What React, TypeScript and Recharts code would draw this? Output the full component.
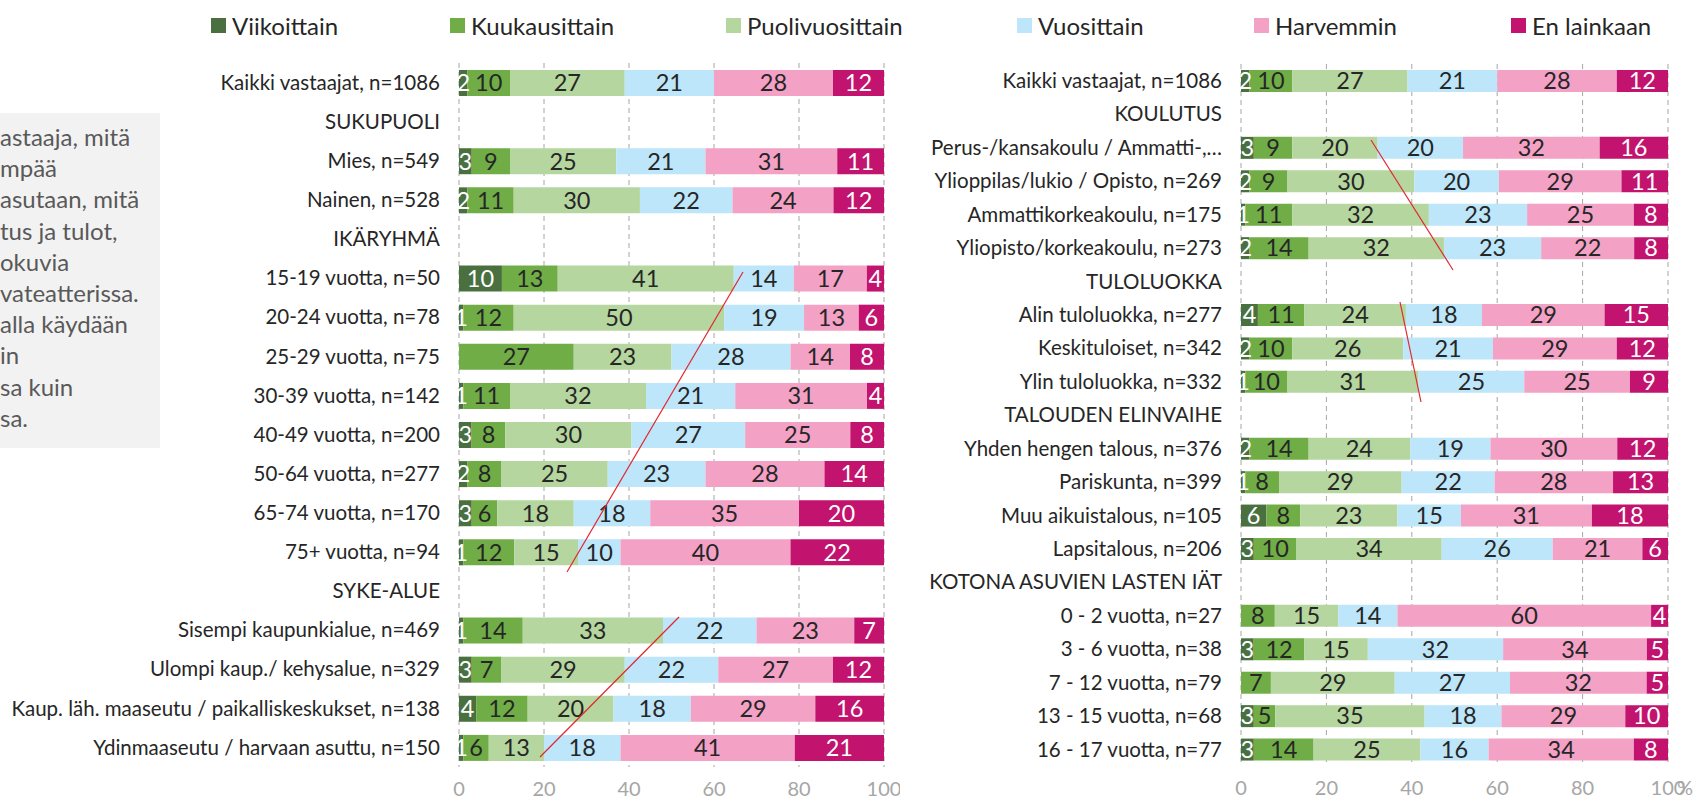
import React from 'react';
import { BarChart, Bar, XAxis, YAxis, CartesianGrid, LabelList } from 'recharts';

const seriesNames = ['Viikoittain', 'Kuukausittain', 'Puolivuosittain', 'Vuosittain', 'Harvemmin', 'En lainkaan'];
const seriesColors = ['#4a7040', '#70ad47', '#b5d69f', '#bde6fa', '#f4a1c6', '#c2136e'];
const labelColors = ['#ffffff', '#262626', '#262626', '#262626', '#262626', '#ffffff'];
const xTicks = [0, 0.2, 0.4, 0.6, 0.8, 1];

const leftCategories = [
  'Kaikki vastaajat, n=1086',
  'SUKUPUOLI',
  'Mies, n=549',
  'Nainen, n=528',
  'IKÄRYHMÄ',
  '15-19 vuotta, n=50',
  '20-24 vuotta, n=78',
  '25-29 vuotta, n=75',
  '30-39 vuotta, n=142',
  '40-49 vuotta, n=200',
  '50-64 vuotta, n=277',
  '65-74 vuotta, n=170',
  '75+ vuotta, n=94',
  'SYKE-ALUE',
  'Sisempi kaupunkialue, n=469',
  'Ulompi kaup./ kehysalue, n=329',
  'Kaup. läh. maaseutu / paikalliskeskukset, n=138',
  'Ydinmaaseutu / harvaan asuttu, n=150',
];
const leftViikoittain = [2, null, 3, 2, null, 10, 1, 0, 1, 3, 2, 3, 1, null, 1, 3, 4, 1];
const leftKuukausittain = [10, null, 9, 11, null, 13, 12, 27, 11, 8, 8, 6, 12, null, 14, 7, 12, 6];
const leftPuolivuosittain = [27, null, 25, 30, null, 41, 50, 23, 32, 30, 25, 18, 15, null, 33, 29, 20, 13];
const leftVuosittain = [21, null, 21, 22, null, 14, 19, 28, 21, 27, 23, 18, 10, null, 22, 22, 18, 18];
const leftHarvemmin = [28, null, 31, 24, null, 17, 13, 14, 31, 25, 28, 35, 40, null, 23, 27, 29, 41];
const leftEnLainkaan = [12, null, 11, 12, null, 4, 6, 8, 4, 8, 14, 20, 22, null, 7, 12, 16, 21];

const rightCategories = [
  'Kaikki vastaajat, n=1086',
  'KOULUTUS',
  'Perus-/kansakoulu / Ammatti-,…',
  'Ylioppilas/lukio / Opisto, n=269',
  'Ammattikorkeakoulu, n=175',
  'Yliopisto/korkeakoulu, n=273',
  'TULOLUOKKA',
  'Alin tuloluokka, n=277',
  'Keskituloiset, n=342',
  'Ylin tuloluokka, n=332',
  'TALOUDEN ELINVAIHE',
  'Yhden hengen talous, n=376',
  'Pariskunta, n=399',
  'Muu aikuistalous, n=105',
  'Lapsitalous, n=206',
  'KOTONA ASUVIEN LASTEN IÄT',
  '0 - 2 vuotta, n=27',
  '3 - 6 vuotta, n=38',
  '7 - 12 vuotta, n=79',
  '13 - 15 vuotta, n=68',
  '16 - 17 vuotta, n=77',
];
const rightViikoittain = [2, null, 3, 2, 1, 2, null, 4, 2, 1, null, 2, 1, 6, 3, null, 0, 3, 0, 3, 3];
const rightKuukausittain = [10, null, 9, 9, 11, 14, null, 11, 10, 10, null, 14, 8, 8, 10, null, 8, 12, 7, 5, 14];
const rightPuolivuosittain = [27, null, 20, 30, 32, 32, null, 24, 26, 31, null, 24, 29, 23, 34, null, 15, 15, 29, 35, 25];
const rightVuosittain = [21, null, 20, 20, 23, 23, null, 18, 21, 25, null, 19, 22, 15, 26, null, 14, 32, 27, 18, 16];
const rightHarvemmin = [28, null, 32, 29, 25, 22, null, 29, 29, 25, null, 30, 28, 31, 21, null, 60, 34, 32, 29, 34];
const rightEnLainkaan = [12, null, 16, 11, 8, 8, null, 15, 12, 9, null, 12, 13, 18, 6, null, 4, 5, 5, 10, 8];

const noteLines = ['astaaja, mitä', 'mpää', 'asutaan, mitä', 'tus ja tulot,', 'okuvia', 'vateatterissa.', 'alla käydään', 'in', 'sa kuin', 'sa.'];

const buildRows = (categories: string[], values: (number | null)[][]) =>
  categories.map((name, i) => {
    const row: Record<string, string | number | null> = { name };
    seriesNames.forEach((s, k) => {
      row[s] = values[k][i];
    });
    return row;
  });

const leftData = buildRows(leftCategories, [
  leftViikoittain, leftKuukausittain, leftPuolivuosittain, leftVuosittain, leftHarvemmin, leftEnLainkaan,
]);
const rightData = buildRows(rightCategories, [
  rightViikoittain, rightKuukausittain, rightPuolivuosittain, rightVuosittain, rightHarvemmin, rightEnLainkaan,
]);

const legendLefts = [211, 450, 726, 1017, 1254, 1511];

interface PanelProps {
  data: Record<string, string | number | null>[];
  width: number;
  yWidth: number;
  top: number;
  right: number;
  xHeight: number;
  barSize: number;
}

const Panel: React.FC<PanelProps> = ({ data, width, yWidth, top, right, xHeight, barSize }) => (
  <BarChart
    width={width}
    height={802}
    data={data}
    layout="vertical"
    stackOffset="expand"
    margin={{ top, right, bottom: 0, left: 0 }}
  >
    <CartesianGrid horizontal={false} stroke="#a6a6a6" strokeDasharray="5 4" />
    <XAxis
      type="number"
      domain={[0, 1]}
      ticks={xTicks}
      tickFormatter={(v: number) => String(Math.round(v * 100))}
      axisLine={false}
      tickLine={false}
      tickSize={0}
      tickMargin={15}
      height={xHeight}
      tick={{ fill: '#a6a6a6', fontSize: 20 }}
      interval={0}
    />
    <YAxis
      type="category"
      dataKey="name"
      width={yWidth}
      axisLine={false}
      tickLine={false}
      tickSize={0}
      tickMargin={19}
      interval={0}
      tick={{ fill: '#262626', fontSize: 20.5 }}
    />
    {seriesNames.map((s, k) => (
      <Bar key={s} dataKey={s} stackId="a" fill={seriesColors[k]} barSize={barSize} isAnimationActive={false}>
        <LabelList
          dataKey={s}
          position="center"
          fill={labelColors[k]}
          fontSize={23.5}
          formatter={(v: any) => (v ? v : '')}
        />
      </Bar>
    ))}
  </BarChart>
);

export default function App() {
  return (
    <div
      style={{
        position: 'absolute',
        left: 0,
        top: 0,
        width: 1693,
        height: 802,
        background: '#ffffff',
        fontFamily: 'Lato, sans-serif',
        overflow: 'hidden',
      }}
    >
      <div
        style={{
          position: 'absolute',
          left: 0,
          top: 113,
          width: 160,
          height: 335,
          background: '#f2f2f2',
          paddingTop: 8,
          boxSizing: 'border-box',
          color: '#595959',
          fontSize: 24,
          lineHeight: '31.2px',
          whiteSpace: 'nowrap',
          overflow: 'hidden',
        }}
      >
        {noteLines.map((t) => (
          <div key={t}>{t}</div>
        ))}
      </div>

      <div style={{ position: 'absolute', left: 0, top: 0 }}>
        <Panel data={leftData} width={900} yWidth={459} top={63} right={16} xHeight={35} barSize={26} />
      </div>
      <div style={{ position: 'absolute', left: 900, top: 0 }}>
        <Panel data={rightData} width={793} yWidth={341} top={64} right={25} xHeight={36} barSize={22} />
      </div>
      <div style={{ position: 'absolute', left: 1677, top: 775, color: '#a6a6a6', fontSize: 20 }}>%</div>

      {seriesNames.map((s, k) => (
        <div
          key={s}
          style={{
            position: 'absolute',
            left: legendLefts[k],
            top: 8,
            display: 'flex',
            alignItems: 'center',
            height: 34,
            color: '#262626',
            fontSize: 24,
          }}
        >
          <span style={{ width: 15, height: 15, background: seriesColors[k], marginRight: 6, display: 'inline-block' }} />
          {s}
        </div>
      ))}

      {/* punaiset apuviivat */}
      <svg width={1693} height={802} style={{ position: 'absolute', left: 0, top: 0, pointerEvents: 'none' }}>
        <line x1={743} y1={272} x2={567} y2={572} stroke="#e3262d" strokeWidth={1.2} />
        <line x1={679} y1={617} x2={540} y2={757} stroke="#e3262d" strokeWidth={1.2} />
        <line x1={1371} y1={140} x2={1453} y2={270} stroke="#e3262d" strokeWidth={1.2} />
        <line x1={1400} y1={302} x2={1421} y2={402} stroke="#e3262d" strokeWidth={1.2} />
      </svg>
    </div>
  );
}
